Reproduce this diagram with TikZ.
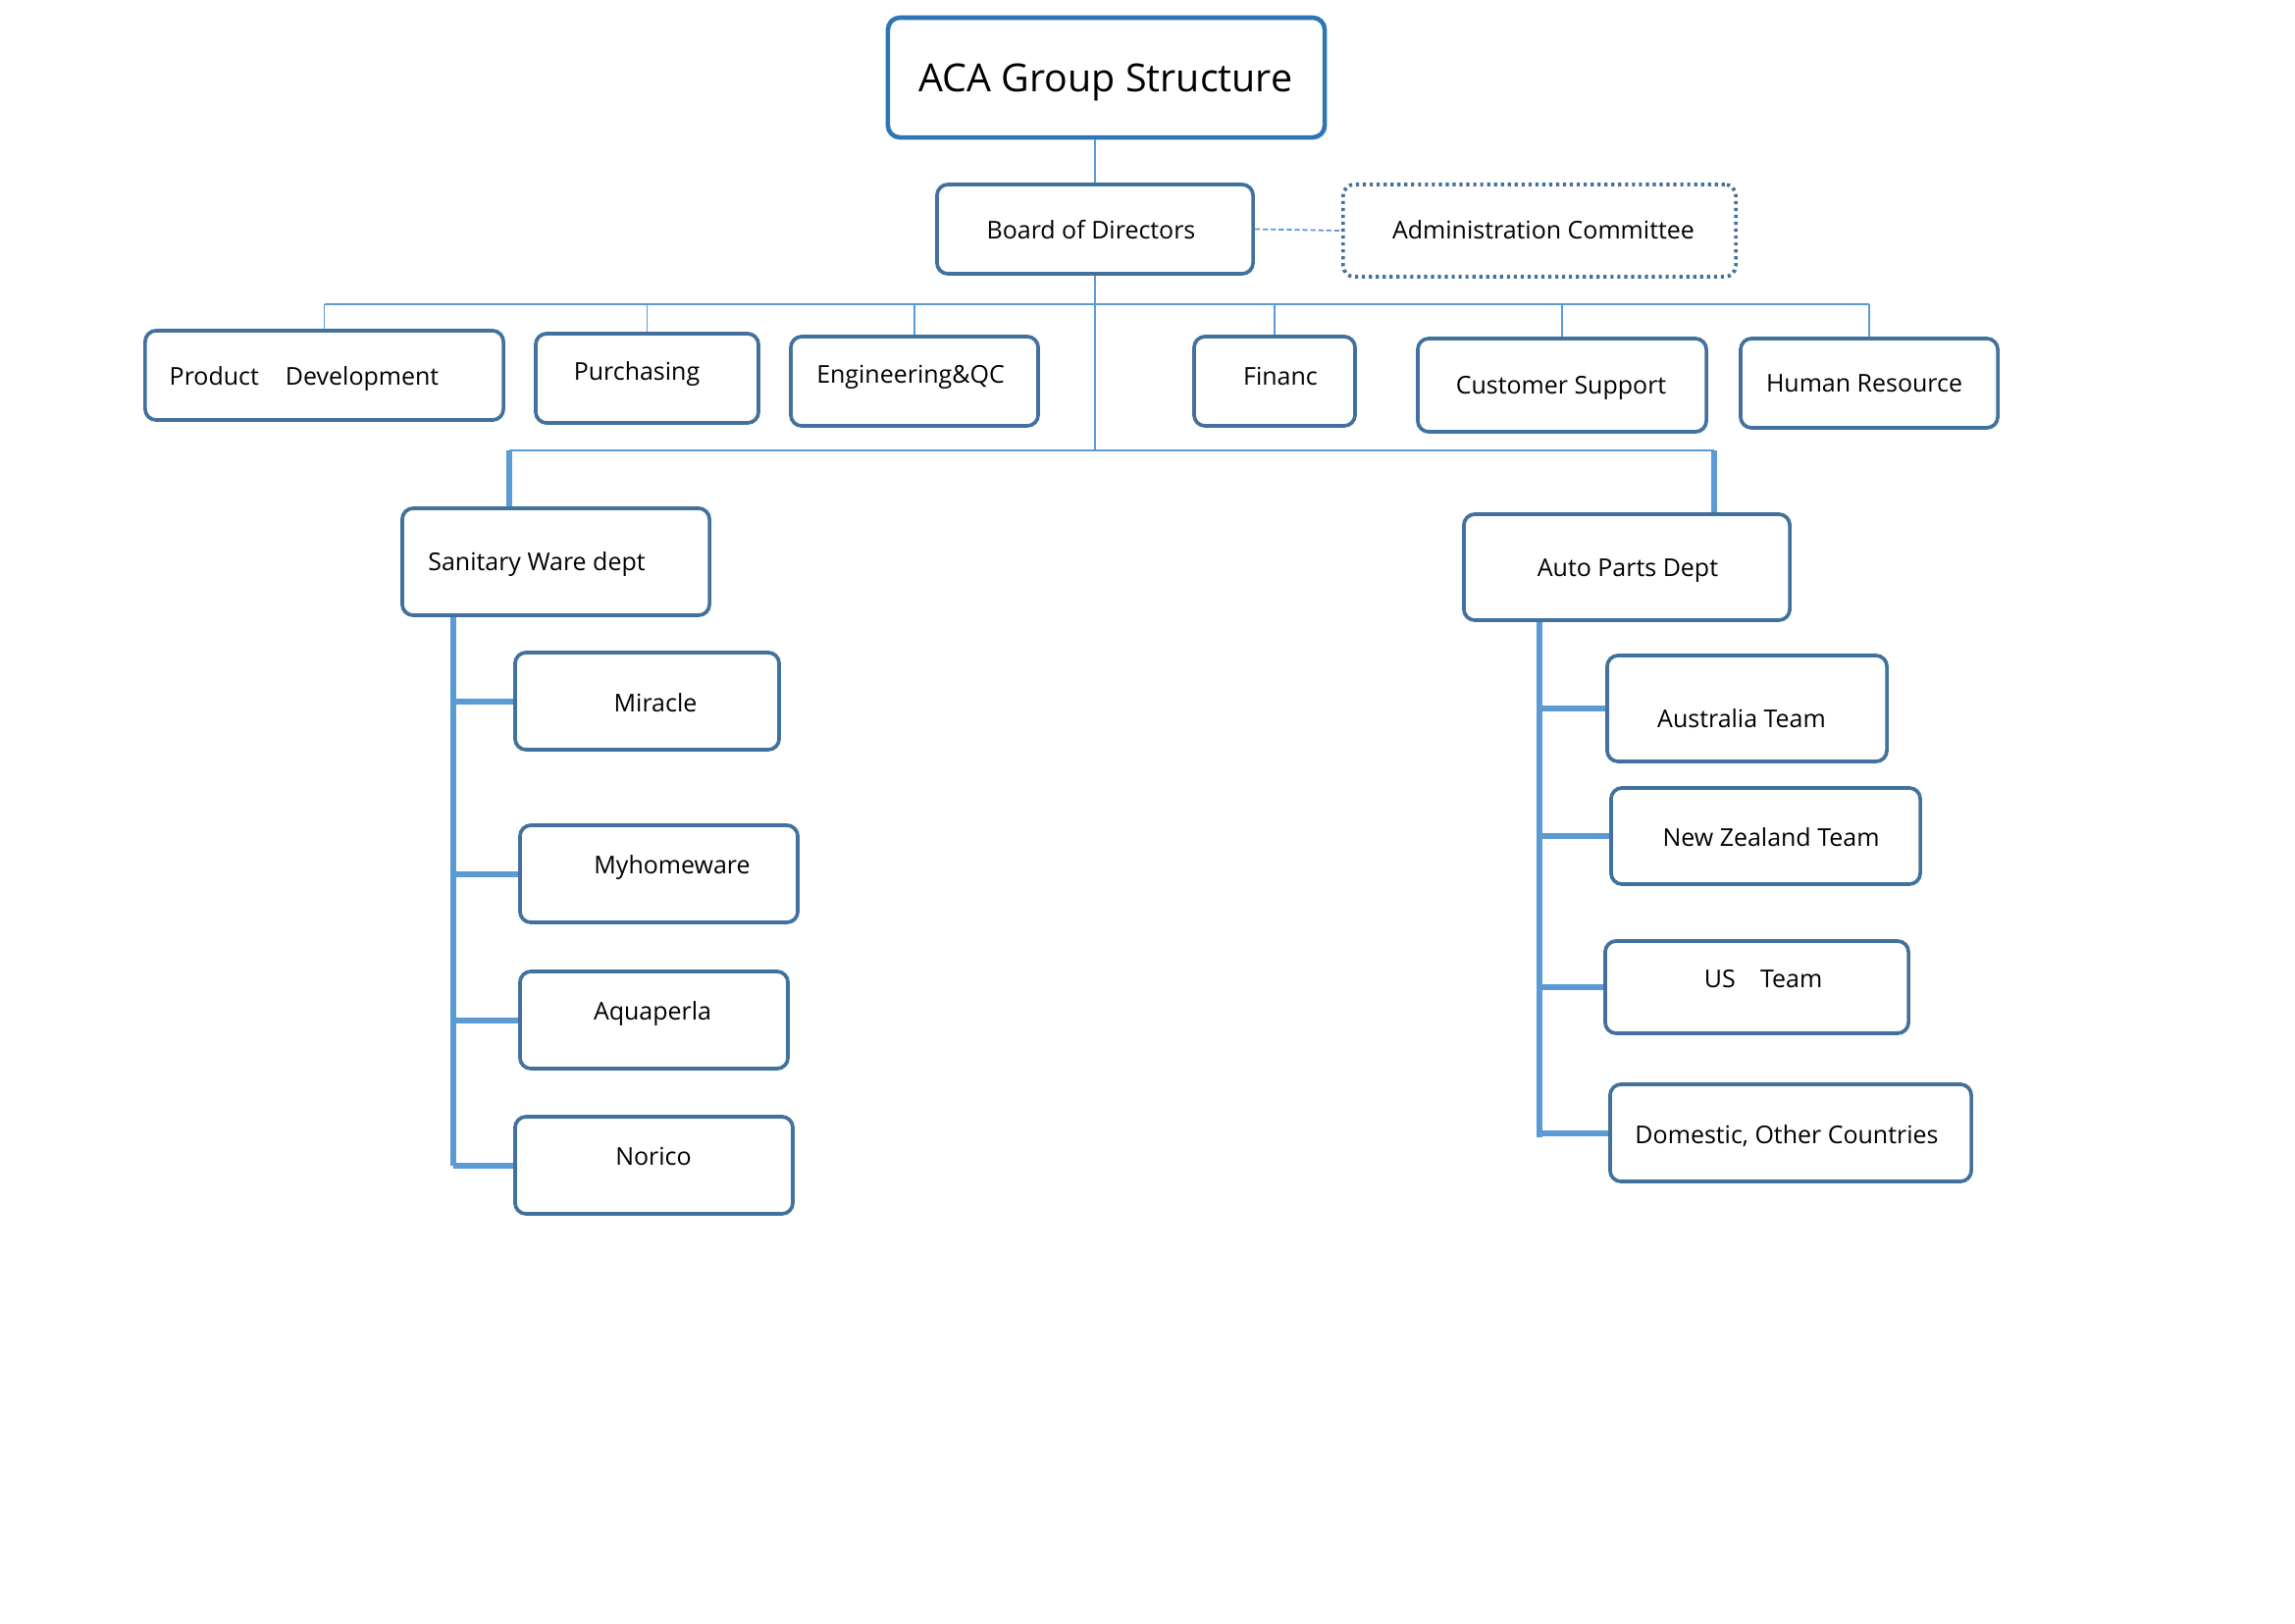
\documentclass[tikz,border=0pt]{standalone}
\usepackage{fontspec}
\setmainfont{Open Sans}
\begin{document}
\begin{tikzpicture}[x=0.01cm,y=-0.01cm,
  box/.style={draw=boxc, line width=1.05pt, rounded corners=3.2pt, fill=white, inner sep=0pt},
  titlebox/.style={draw=titlec, line width=1.3pt, rounded corners=3.5pt, fill=white, inner sep=0pt},
  dotbox/.style={draw=boxc, line width=1.05pt, dash pattern=on 0.9pt off 1.1pt, rounded corners=3.2pt, fill=white, inner sep=0pt},
  txt/.style={font=\fontsize{7.1}{8.5}\selectfont, inner sep=0pt, text height=0.75em, text depth=0.25em},
  thin/.style={draw=linec, line width=0.55pt},
  thick/.style={draw=linec, line width=1.7pt},
  dashline/.style={draw=linec, line width=0.5pt, dash pattern=on 1.5pt off 0.8pt}]
\definecolor{boxc}{HTML}{41719C}
\definecolor{titlec}{HTML}{2E75B6}
\definecolor{linec}{HTML}{5B9BD5}
\useasboundingbox (0,0) rectangle (2339,1654);
\fill[white] (0,0) rectangle (2339,1654);

% boxes
\node[titlebox, minimum width=4.45cm, minimum height=1.22cm] (title) at (1127.5,79) {};
\node[box, minimum width=3.22cm, minimum height=0.91cm] (board) at (1116,233.5) {};
\node[dotbox, minimum width=4.00cm, minimum height=0.94cm] (admin) at (1569,235) {};
\node[box, minimum width=3.65cm, minimum height=0.91cm] (prod) at (330.5,382.5) {};
\node[box, minimum width=2.27cm, minimum height=0.91cm] (purch) at (659.5,385.5) {};
\node[box, minimum width=2.52cm, minimum height=0.91cm] (eng) at (932,388.5) {};
\node[box, minimum width=1.64cm, minimum height=0.91cm] (fin) at (1299,388.5) {};
\node[box, minimum width=2.94cm, minimum height=0.95cm] (cust) at (1592,392.5) {};
\node[box, minimum width=2.62cm, minimum height=0.91cm] (hr) at (1905,390.5) {};
\node[box, minimum width=3.13cm, minimum height=1.09cm] (san) at (566.5,572.5) {};
\node[box, minimum width=2.69cm, minimum height=0.99cm] (mir) at (659.5,714.5) {};
\node[box, minimum width=2.83cm, minimum height=0.99cm] (myh) at (671.5,890.5) {};
\node[box, minimum width=2.73cm, minimum height=0.99cm] (aqu) at (666.5,1039.5) {};
\node[box, minimum width=2.83cm, minimum height=0.99cm] (nor) at (666.5,1187.5) {};
\node[box, minimum width=3.32cm, minimum height=1.08cm] (auto) at (1658,578) {};
\node[box, minimum width=2.85cm, minimum height=1.08cm] (aus) at (1780.5,722) {};
\node[box, minimum width=3.15cm, minimum height=0.98cm] (nz) at (1799.5,852) {};
\node[box, minimum width=3.09cm, minimum height=0.94cm] (us) at (1790.5,1006) {};
\node[box, minimum width=3.68cm, minimum height=0.99cm] (dom) at (1825,1154.5) {};

% texts
\node[txt, font=\fontsize{11.2}{13}\selectfont] (title-t) at (1127,85) {ACA Group Structure};
\node[txt] (board-t) at (1112,235) {Board of Directors};
\node[txt] (admin-t) at (1573,235) {Administration Committee};
\node[txt] (prod-t) at (310,384) {Product\hspace{7.7pt}Development};
\node[txt] (purch-t) at (649,379) {Purchasing};
\node[txt] (eng-t) at (928,382) {Engineering\&QC};
\node[txt] (fin-t) at (1305,384) {Financ};
\node[txt] (cust-t) at (1591,393) {Customer Support};
\node[txt] (hr-t) at (1900,391) {Human Resource};
\node[txt] (san-t) at (547,573) {Sanitary Ware dept};
\node[txt] (mir-t) at (668,717) {Miracle};
\node[txt] (myh-t) at (685,882) {Myhomeware};
\node[txt] (aqu-t) at (665,1031) {Aquaperla};
\node[txt] (nor-t) at (666,1179) {Norico};
\node[txt] (auto-t) at (1659,579) {Auto Parts Dept};
\node[txt] (aus-t) at (1775,733) {Australia Team};
\node[txt] (nz-t) at (1805,854) {New Zealand Team};
\node[txt] (us-t) at (1797,998) {US\hspace{7.2pt}Team};
\node[txt] (dom-t) at (1821,1157) {Domestic, Other Countries};

% coordinates
\coordinate (ub) at (0,310);
\coordinate (lb1) at (519,459);
\coordinate (lb2) at (1747,459);
\coordinate (sv) at (462,1188);
\coordinate (av) at (1569,1159);

% top connectors
\draw[thin] (board.north) -- (board.north |- title.south);
\draw[dashline] (board.east) -- (admin.west);
\draw[thin] (board.south) -- (board.south |- lb1);
\draw[thin] (prod.north |- ub) -- (hr.north |- ub);
\foreach \n in {prod,purch,eng,fin,cust,hr}
  \draw[thin] (\n.north |- ub) -- (\n.north);

% lower bus
\draw[thin] (lb1) -- (lb2);
\draw[thick] (lb1) -- (lb1 |- san.north);
\draw[thick] (lb2) -- (lb2 |- auto.north);

% sanitary branch
\draw[thick] (sv |- san.south) -- (sv);
\foreach \n in {mir,myh,aqu,nor}
  \draw[thick] (sv |- \n.west) -- (\n.west);

% auto branch
\draw[thick] (av |- auto.south) -- (av);
\foreach \n in {aus,nz,us,dom}
  \draw[thick] (av |- \n.west) -- (\n.west);
\end{tikzpicture}
\end{document}
